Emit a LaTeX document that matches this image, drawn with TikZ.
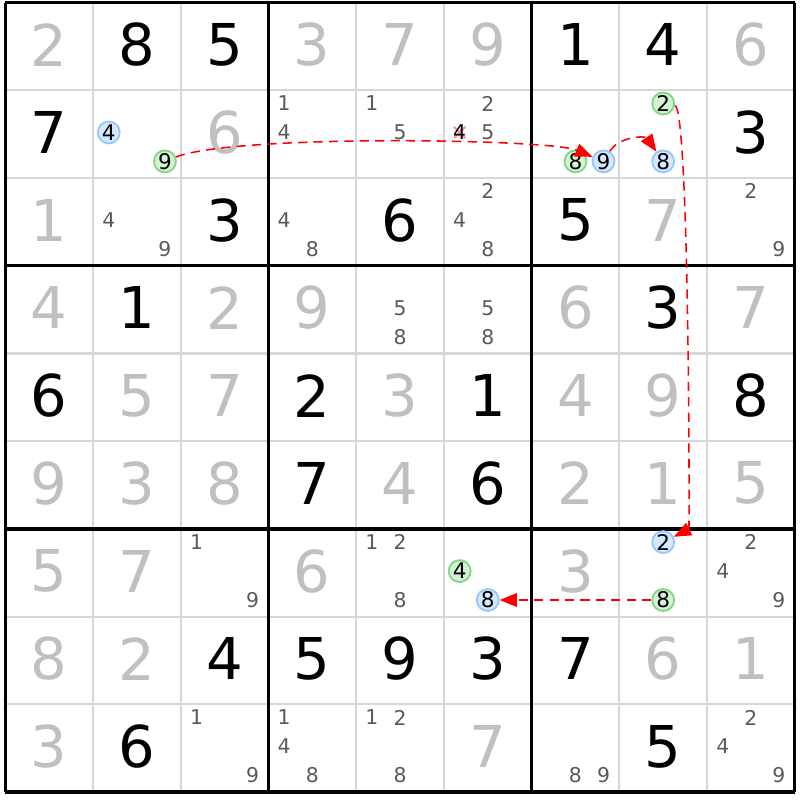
\documentclass[tikz,border=0pt]{standalone}
\usepackage{fontspec}
\setmainfont{DejaVu Sans}
\usetikzlibrary{arrows.meta}
\definecolor{solvedgray}{RGB}{192,192,192}
\definecolor{candgray}{RGB}{90,90,90}
\definecolor{gridgray}{RGB}{215,215,215}
\definecolor{bluefill}{RGB}{212,232,255}
\definecolor{bluering}{RGB}{150,200,250}
\definecolor{greenfill}{RGB}{212,242,212}
\definecolor{greenring}{RGB}{130,215,135}
\definecolor{linkred}{RGB}{255,0,0}
\definecolor{strikepink}{RGB}{255,150,160}

\begin{document}
\begin{tikzpicture}[x=1cm, y=1cm, >={Triangle[length=5.6pt,width=4.4pt]},
	thinline/.style={draw=gridgray, line width=0.7pt},
	boxline/.style={draw=black, line width=1.1pt},
	given/.style={inner sep=0pt, font=\fontsize{18.7}{20}\selectfont, text=black},
	solved/.style={given, text=solvedgray},
	cand/.style={inner sep=0pt, font=\fontsize{6.6}{7}\selectfont, text=candgray},
	bluecand/.style={circle, draw=bluering, fill=bluefill, line width=0.6pt, minimum size=0.25cm, inner sep=0pt, font=\fontsize{7}{8}\selectfont},
	greencand/.style={bluecand, draw=greenring, fill=greenfill},
	strike/.style={draw=strikepink, line width=0.7pt},
	link/.style={->, draw=linkred, line width=0.5pt, dash pattern=on 3pt off 2pt}]
	\useasboundingbox (-0.06,0.03) rectangle (9.06,-9.09);
	%%%%%%%%%%%%%%%%%%%%%%%%%%%%%%%%%%%%%%%%%%%%%%%%%%%%%%%%%%
	% cell lines
	\foreach \i in {1,...,8} {
		\draw[thinline] (\i,0) -- (\i,-9);
		\draw[thinline] (0,-\i) -- (9,-\i);
	}
	% box lines
	\foreach \i in {0,3,6,9} {
		\draw[boxline] (\i,0) -- (\i,-9);
		\draw[boxline] (0,-\i) -- (9,-\i);
	}
	%%%%%%%%%%%%%%%%%%%%%%%%%%%%%%%%%%%%%%%%%%%%%%%%%%%%%%%%%%
	% given digits
	\foreach \r/\c/\d in {1/2/8, 1/3/5, 1/7/1, 1/8/4, 2/1/7, 2/9/3, 3/3/3, 3/5/6, 3/7/5,
		4/2/1, 4/8/3, 5/1/6, 5/4/2, 5/6/1, 5/9/8, 6/4/7, 6/6/6,
		8/3/4, 8/4/5, 8/5/9, 8/6/3, 8/7/7, 9/2/6, 9/8/5}
		\node[given] (v\r\c) at (\c-0.5,-\r+0.52) {\d};
	
	% solved digits
	\foreach \r/\c/\d in {1/1/2, 1/4/3, 1/5/7, 1/6/9, 1/9/6, 2/3/6, 3/1/1, 3/8/7,
		4/1/4, 4/3/2, 4/4/9, 4/7/6, 4/9/7, 5/2/5, 5/3/7, 5/5/3, 5/7/4, 5/8/9,
		6/1/9, 6/2/3, 6/3/8, 6/5/4, 6/7/2, 6/8/1, 6/9/5, 7/1/5, 7/2/7, 7/4/6, 7/7/3,
		8/1/8, 8/2/2, 8/8/6, 8/9/1, 9/1/3, 9/6/7}
		\node[solved] (v\r\c) at (\c-0.5,-\r+0.52) {\d};
	
	% candidates
	\foreach \r/\c/\d/\s in {2/4/1/cand, 2/4/4/cand, 2/5/1/cand, 2/5/5/cand, 2/6/2/cand, 2/6/5/cand,
		3/2/4/cand, 3/2/9/cand, 3/4/4/cand, 3/4/8/cand, 3/6/2/cand, 3/6/4/cand, 3/6/8/cand,
		3/9/2/cand, 3/9/9/cand, 4/5/5/cand, 4/5/8/cand, 4/6/5/cand, 4/6/8/cand,
		7/3/1/cand, 7/3/9/cand, 7/5/1/cand, 7/5/2/cand, 7/5/8/cand, 7/9/2/cand, 7/9/4/cand, 7/9/9/cand,
		9/3/1/cand, 9/3/9/cand, 9/4/1/cand, 9/4/4/cand, 9/4/8/cand, 9/5/1/cand, 9/5/2/cand, 9/5/8/cand,
		9/7/8/cand, 9/7/9/cand, 9/9/2/cand, 9/9/4/cand, 9/9/9/cand,
		2/2/4/bluecand, 2/2/9/greencand, 2/7/8/greencand, 2/7/9/bluecand, 2/8/2/greencand, 2/8/8/bluecand,
		7/6/4/greencand, 7/6/8/bluecand, 7/8/2/bluecand, 7/8/8/greencand} {
		\pgfmathsetmacro\cx{\c-1+0.18+0.32*mod(\d-1,3)}
		\pgfmathsetmacro\cy{-(\r-1)-0.15-0.33*floor((\d-1)/3)}
		\node[\s] (k\r\c\d) at (\cx,\cy) {\d};
	}
	
	% eliminated candidate
	\coordinate (x264) at (5.18,-1.48);
	\draw[strike] (x264) ++(-0.065,0.065) -- ++(0.13,-0.13) (x264) ++(-0.065,-0.065) -- ++(0.13,0.13);
	\node[cand, text=black] (k264) at (x264) {4};
	%%%%%%%%%%%%%%%%%%%%%%%%%%%%%%%%%%%%%%%%%%%%%%%%%%%%%%%%%%
	% chain links
	\draw[link] (k229) .. controls (2.6,-1.5) and (6.2,-1.55) .. (k279);
	\draw[link] (k279) .. controls (7.0,-1.52) and (7.3,-1.52) .. (k288);
	\draw[link] (k282) .. controls (7.8,-1.2) and (7.8,-6.0) .. (k782);
	\draw[link] (k788) -- (k768);
\end{tikzpicture}
\end{document}
